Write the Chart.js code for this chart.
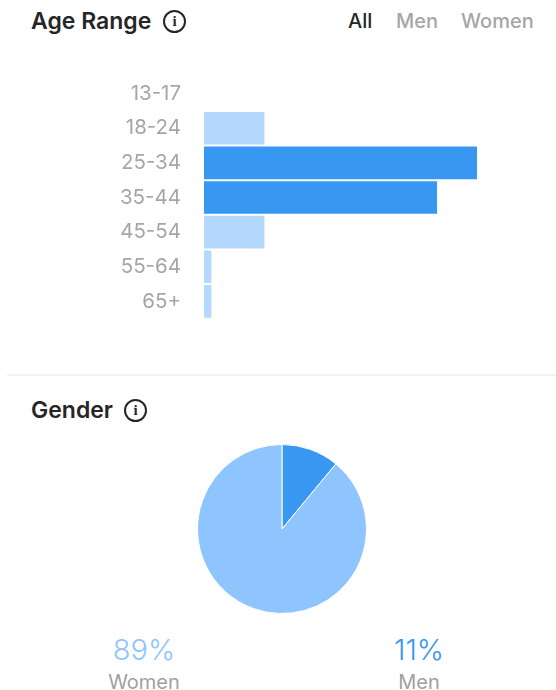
<!DOCTYPE html>
<html>
<head>
<meta charset="utf-8">
<script src="https://cdn.jsdelivr.net/npm/chart.js@4"></script>
<style>
html, body { margin: 0; padding: 0; background: #fff; }
body { width: 556px; height: 690px; position: relative; overflow: hidden; font-family: Inter, Roboto, sans-serif; filter: blur(0.5px); }
.t { position: absolute; white-space: nowrap; line-height: 1; }
.title { font-size: 23px; font-weight: 600; color: #262626; }
.tab { font-size: 20px; font-weight: 500; color: #a6a6a6; }
.info { position: absolute; width: 23px; height: 23px; border: 2px solid #262626; border-radius: 50%; box-sizing: border-box;
  font: 700 15px/19px "Liberation Serif", serif; text-align: center; color: #262626; }
.pct { font-size: 29px; font-weight: 300; transform: translateX(-50%); }
.lbl { font-size: 20px; color: #a0a0a0; transform: translateX(-50%); }
#rule { position: absolute; left: 7px; top: 374px; width: 549px; height: 2px; background: #f2f2f2; }
#barBox { position: absolute; left: 0; top: 41px; width: 556px; height: 313px; }
#pieBox { position: absolute; left: 192px; top: 439px; width: 180px; height: 180px; }
</style>
</head>
<body>
<div class="t title" style="left:31px;top:10px">Age Range</div>
<div class="info" style="left:163px;top:10px">i</div>
<div class="t tab" style="left:348px;top:11px;color:#262626">All</div>
<div class="t tab" style="left:396px;top:11px">Men</div>
<div class="t tab" style="left:461px;top:11px">Women</div>

<div id="barBox"><canvas id="bars"></canvas></div>
<div id="rule"></div>

<div class="t title" style="left:31px;top:399px">Gender</div>
<div class="info" style="left:124px;top:399px">i</div>
<div id="pieBox"><canvas id="pie"></canvas></div>

<div class="t pct" style="left:144px;top:635px;color:#8ec5ff" id="pctWomen"></div>
<div class="t lbl" style="left:144px;top:672px" id="lblWomen"></div>
<div class="t pct" style="left:419px;top:635px;color:#3897f0" id="pctMen"></div>
<div class="t lbl" style="left:419px;top:672px" id="lblMen"></div>

<script>
const ageRanges = ['13-17', '18-24', '25-34', '35-44', '45-54', '55-64', '65+'];
const agePercents = [0, 9.4, 42.7, 36.4, 9.4, 1.1, 1.1];
const ageColors = ['rgba(0,0,0,0)', '#b5d8fe', '#3897f0', '#3897f0', '#b5d8fe', '#b5d8fe', '#b5d8fe'];
const genders = ['Men', 'Women'];
const genderPercents = [11, 89];
const genderColors = ['#3897f0', '#8ec5ff'];

Chart.defaults.animation = false;
Chart.defaults.font.family = 'Inter, Roboto, sans-serif';

new Chart(document.getElementById('bars').getContext('2d'), {
    type: 'bar',
    data: {
        labels: ageRanges,
        datasets: [{
            data: agePercents,
            backgroundColor: ageColors,
            barThickness: 32
        }]
    },
    options: {
        indexAxis: 'y',
        responsive: true,
        maintainAspectRatio: false,
        layout: { padding: { right: 79 } },
        plugins: {
            legend: { display: false },
            tooltip: { enabled: false }
        },
        scales: {
            x: {
                display: false,
                min: 0,
                max: 42.7
            },
            y: {
                afterFit: function (scale) { scale.width = 204; },
                grid: { display: false, drawTicks: false },
                border: { display: false },
                ticks: { color: '#a6a6a6', padding: 23, font: { size: 20.5 } }
            }
        }
    }
});

new Chart(document.getElementById('pie').getContext('2d'), {
    type: 'pie',
    data: {
        labels: genders,
        datasets: [{
            data: genderPercents,
            backgroundColor: genderColors,
            borderColor: '#fff',
            borderWidth: 1
        }]
    },
    options: {
        responsive: true,
        maintainAspectRatio: false,
        layout: { padding: 5 },
        plugins: {
            legend: { display: false },
            tooltip: { enabled: false }
        }
    }
});

document.getElementById('pctWomen').textContent = genderPercents[1] + '%';
document.getElementById('lblWomen').textContent = genders[1];
document.getElementById('pctMen').textContent = genderPercents[0] + '%';
document.getElementById('lblMen').textContent = genders[0];
</script>
</body>
</html>
